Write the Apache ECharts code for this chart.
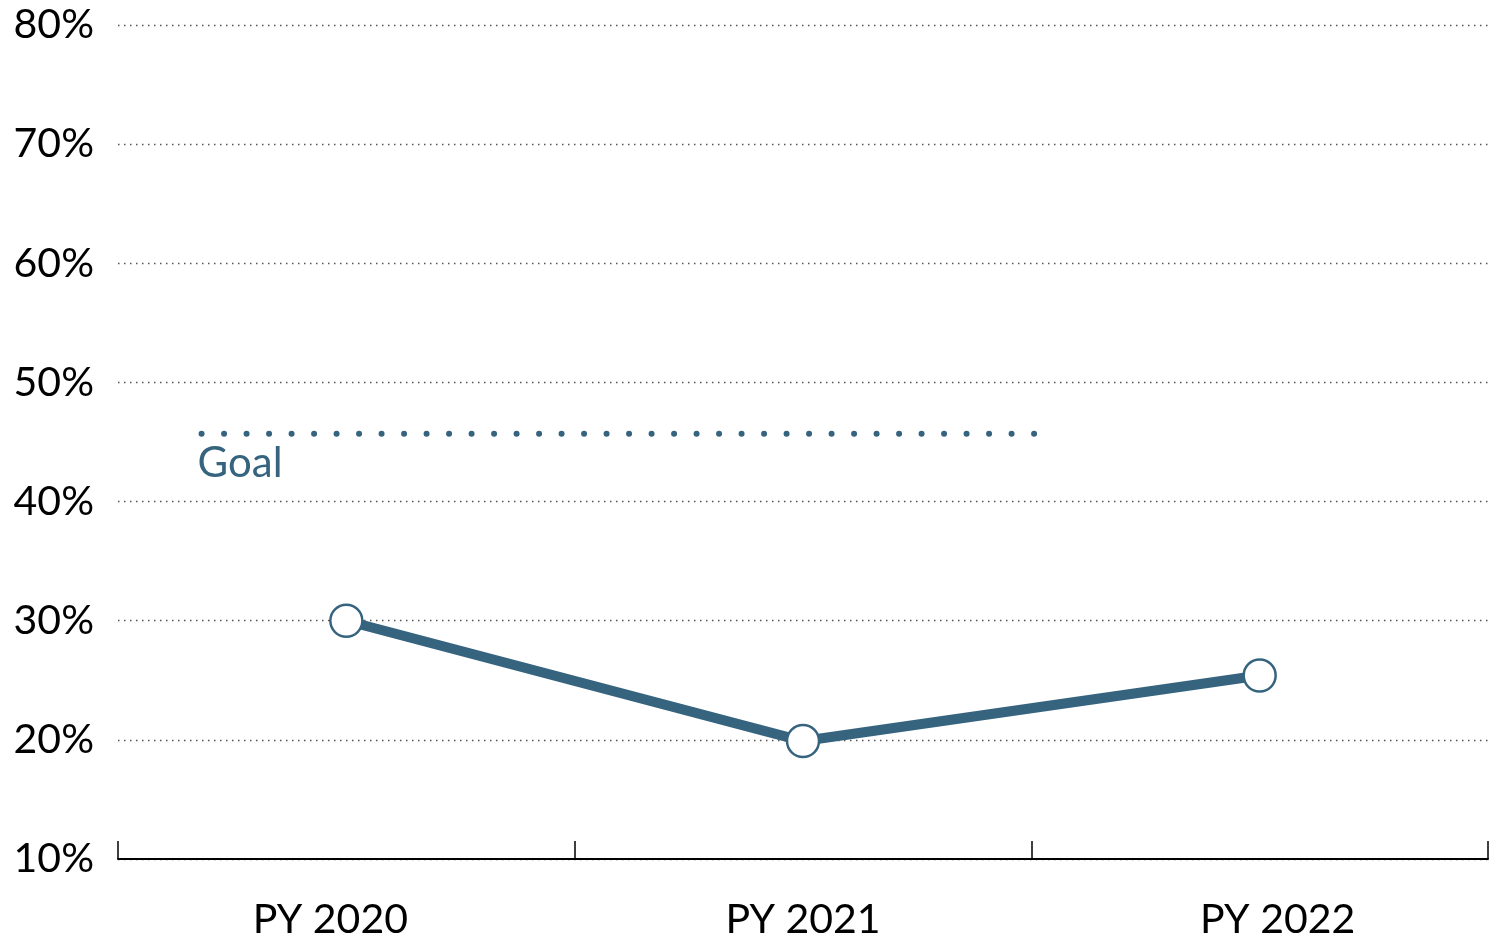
<!DOCTYPE html>
<html>
<head>
<meta charset="utf-8">
<script src="https://cdn.jsdelivr.net/npm/echarts@6/dist/echarts.min.js"></script>
<style>html,body{margin:0;padding:0;background:#fff}#c{width:1492px;height:939px}</style>
</head>
<body>
<div id="c"></div>
<script>
const categories = ['PY 2020', 'PY 2021', 'PY 2022'];
const values = [30.0, 19.9, 25.4];
const goalValue = 45.7;
const goalStart = 0.183;   // position along category band scale (0..3)
const goalEnd = 2.012;
const goalLabel = 'Goal';
const yTicks = [10, 20, 30, 40, 50, 60, 70, 80];

const FONT = 'Lato';
const C = '#36647f';

const chart = echarts.init(document.getElementById('c'), null, {renderer: 'canvas'});
chart.setOption({
  animation: false,
  backgroundColor: '#fff',
  grid: {left: 118, right: 4, top: 25, bottom: 80, containLabel: false, outerBoundsMode: 'none'},
  xAxis: [{
    type: 'category',
    data: categories,
    boundaryGap: true,
    axisLine: {show: true, lineStyle: {color: '#000', width: 2}},
    axisTick: {show: true, inside: true, length: 18, lineStyle: {color: '#000', width: 1.5}},
    axisLabel: {
      color: '#000', fontFamily: FONT, fontSize: 41, margin: 40,
      formatter: (v, i) => '{c' + i + '|' + v + '}',
      rich: {
        c0: {color: '#000', fontFamily: FONT, fontSize: 41, padding: [0, 32, 0, 0]},
        c1: {color: '#000', fontFamily: FONT, fontSize: 41},
        c2: {color: '#000', fontFamily: FONT, fontSize: 41, padding: [0, 0, 0, 36]}
      }
    },
    splitLine: {show: false}
  }, {
    type: 'value', min: 0, max: 3, show: false
  }],
  yAxis: {
    type: 'value',
    min: yTicks[0], max: yTicks[yTicks.length - 1], interval: 10,
    axisLine: {show: false},
    axisTick: {show: false},
    axisLabel: {color: '#000', fontFamily: FONT, fontSize: 41, margin: 24, padding: [6, 0, 0, 0], formatter: v => v + '%'},
    splitLine: {show: true, lineStyle: {color: '#555', width: 1.3, type: [1.5, 4.5]}}
  },
  series: [{
    type: 'line',
    xAxisIndex: 1,
    data: [[goalStart, goalValue], [goalEnd, goalValue]],
    symbol: 'none',
    lineStyle: {color: C, width: 6, type: [0.01, 22.49], cap: 'round'},
    z: 2,
    silent: true
  }, {
    type: 'scatter',
    xAxisIndex: 1,
    data: [[goalStart, goalValue]],
    symbolSize: 0,
    itemStyle: {opacity: 1},
    label: {show: true, formatter: goalLabel, position: 'bottom', align: 'left', offset: [-4, 4],
      color: C, opacity: 1, fontFamily: FONT, fontSize: 42},
    z: 2,
    silent: true
  }, {
    type: 'line',
    data: values,
    symbol: 'circle',
    symbolSize: 32,
    showAllSymbol: true,
    lineStyle: {color: C, width: 10},
    itemStyle: {color: '#fff', borderColor: C, borderWidth: 2.5},
    z: 3
  }]
});
</script>
</body>
</html>
